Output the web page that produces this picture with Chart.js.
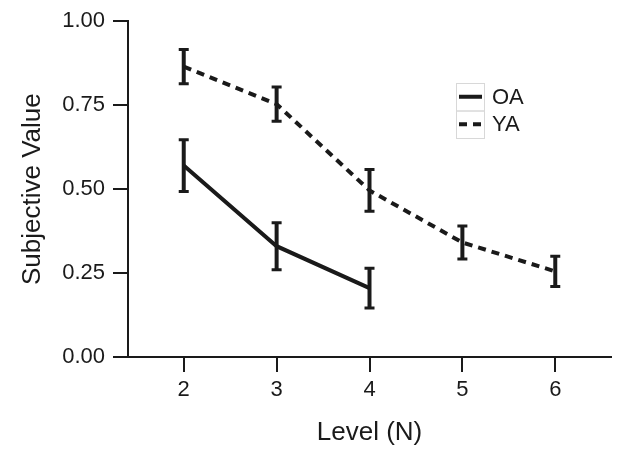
<!DOCTYPE html>
<html>
<head>
<meta charset="utf-8">
<script src="https://cdn.jsdelivr.net/npm/chart.js@4"></script>
<style>
  html, body { margin: 0; padding: 0; background: #fff; }
  #wrap { width: 621px; height: 455px; }
</style>
</head>
<body>
<div id="wrap"><canvas id="myChart" width="621" height="455"></canvas></div>
<script>
// data block
const levels = [2, 3, 4, 5, 6];
const oaLevels = [2, 3, 4];
const oaValues = [0.57, 0.33, 0.205];
const oaErr = [0.077, 0.07, 0.059];
const yaLevels = [2, 3, 4, 5, 6];
const yaValues = [0.865, 0.753, 0.496, 0.341, 0.255];
const yaErr = [0.051, 0.051, 0.062, 0.049, 0.045];
const yTicks = [0, 0.25, 0.5, 0.75, 1];

const ink = "#1a1a1a";
const fontFamily = "'Liberation Sans', Arial, Helvetica, sans-serif";

const toPoints = (xs, ys) => xs.map((x, i) => ({ x: x, y: ys[i] }));

// error bars drawn through the scales
const errorBars = {
  id: "errorBars",
  afterDatasetsDraw(chart) {
    const { ctx, scales } = chart;
    chart.data.datasets.forEach((ds) => {
      ctx.save();
      ctx.strokeStyle = ink;
      ds.data.forEach((p, i) => {
        const x = scales.x.getPixelForValue(p.x);
        const top = scales.y.getPixelForValue(p.y + ds.err[i]);
        const bot = scales.y.getPixelForValue(p.y - ds.err[i]);
        ctx.lineWidth = 4;
        ctx.beginPath();
        ctx.moveTo(x, top);
        ctx.lineTo(x, bot);
        ctx.stroke();
        ctx.lineWidth = 3;
        ctx.beginPath();
        ctx.moveTo(x - 5, top);
        ctx.lineTo(x + 5, top);
        ctx.moveTo(x - 5, bot);
        ctx.lineTo(x + 5, bot);
        ctx.stroke();
      });
      ctx.restore();
    });
  },
};

// small boxed legend like the original
const boxLegend = {
  id: "boxLegend",
  afterDraw(chart) {
    const { ctx } = chart;
    const bx = 456, by = 83, bw = 28, rowH = 27.5;
    ctx.save();
    ctx.strokeStyle = "#d8d8d8";
    ctx.lineWidth = 1;
    chart.data.datasets.forEach((ds, i) => {
      const y0 = by + i * rowH;
      ctx.strokeRect(bx + 0.5, y0 + 0.5, bw, rowH);
    });
    chart.data.datasets.forEach((ds, i) => {
      const cy = by + i * rowH + rowH / 2;
      ctx.strokeStyle = ink;
      ctx.lineWidth = 4;
      ctx.setLineDash(ds.borderDash || []);
      ctx.beginPath();
      ctx.moveTo(bx + 3, cy);
      ctx.lineTo(bx + bw - 2, cy);
      ctx.stroke();
      ctx.setLineDash([]);
      ctx.fillStyle = ink;
      ctx.font = "22px " + fontFamily;
      ctx.textBaseline = "middle";
      ctx.fillText(ds.label, bx + 36, cy + 1);
    });
    ctx.restore();
  },
};

const data = {
  datasets: [
    {
      label: "OA",
      data: toPoints(oaLevels, oaValues),
      err: oaErr,
      borderColor: ink,
      borderWidth: 4,
      pointRadius: 0,
      tension: 0,
    },
    {
      label: "YA",
      data: toPoints(yaLevels, yaValues),
      err: yaErr,
      borderColor: ink,
      borderWidth: 4,
      borderDash: [8, 6],
      pointRadius: 0,
      tension: 0,
    },
  ],
};

const config = {
  type: "line",
  data: data,
  options: {
    responsive: false,
    animation: false,
    devicePixelRatio: 1,
    layout: { padding: { top: 17, right: 10, bottom: 0, left: 0 } },
    plugins: { legend: { display: false }, tooltip: { enabled: false } },
    scales: {
      x: {
        type: "linear",
        min: 1.4,
        max: 6.6,
        afterBuildTicks: (axis) => {
          axis.ticks = levels.map((v) => ({ value: v }));
        },
        afterFit: (axis) => {
          axis.height = 98;
        },
        border: { display: true, color: ink, width: 2 },
        grid: { drawOnChartArea: false, drawTicks: true, tickLength: 15, color: ink, lineWidth: 2 },
        ticks: { color: ink, font: { size: 22, family: fontFamily }, padding: 5, maxRotation: 0 },
        title: {
          display: true,
          text: "Level (N)",
          color: ink,
          font: { size: 26, family: fontFamily },
          padding: { top: 0, bottom: 7 },
        },
      },
      y: {
        min: 0,
        max: 1,
        afterBuildTicks: (axis) => {
          axis.ticks = yTicks.map((v) => ({ value: v }));
        },
        afterFit: (axis) => {
          axis.width = 128;
        },
        border: { display: true, color: ink, width: 2 },
        grid: { drawOnChartArea: false, drawTicks: true, tickLength: 15, color: ink, lineWidth: 2 },
        ticks: {
          color: ink,
          font: { size: 22, family: fontFamily },
          padding: 8,
          callback: (v) => v.toFixed(2),
        },
        title: {
          display: true,
          text: "Subjective Value",
          color: ink,
          font: { size: 26, family: fontFamily },
          padding: { top: 17, bottom: 0 },
        },
      },
    },
  },
  plugins: [errorBars, boxLegend],
};

const myChart = new Chart(document.getElementById("myChart"), config);
</script>
</body>
</html>
